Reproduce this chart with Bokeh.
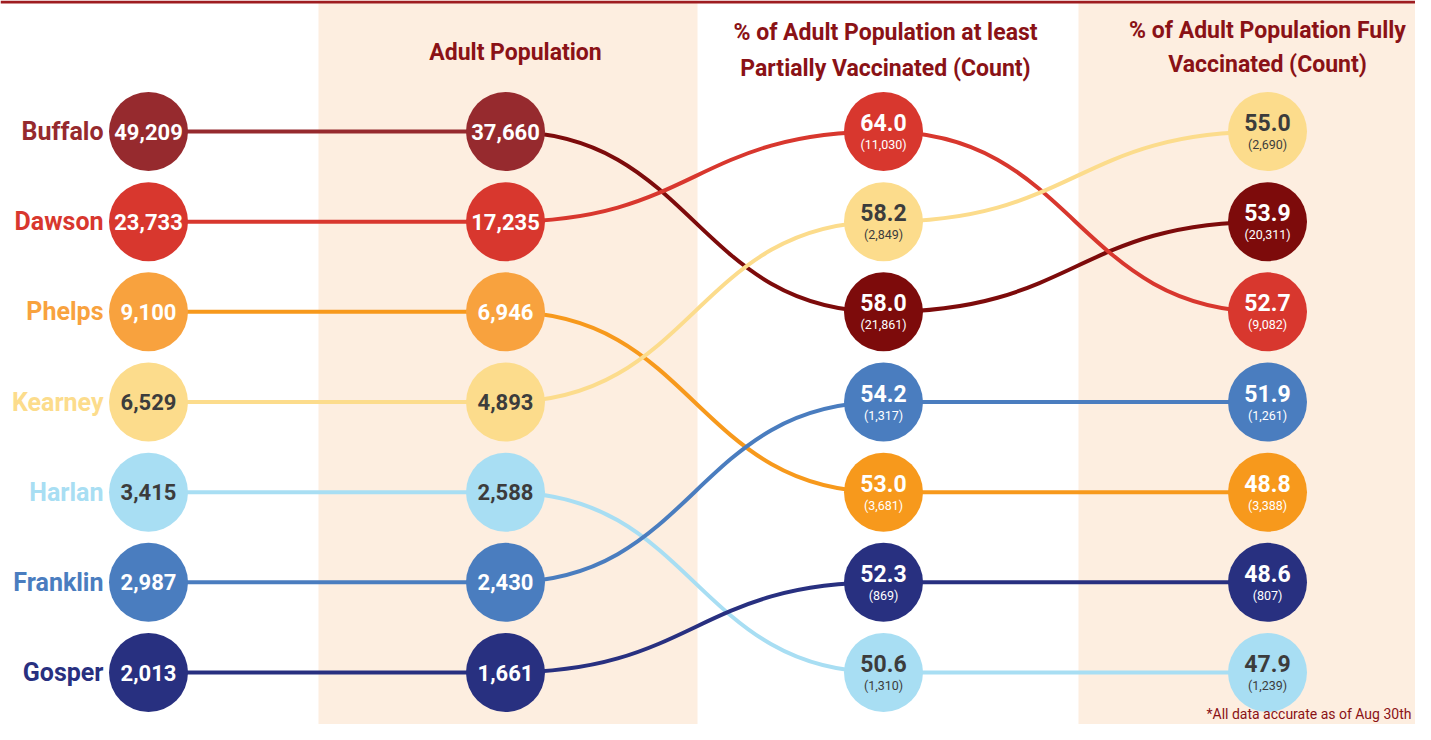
from bokeh.plotting import figure
from bokeh.models import Range1d, BoxAnnotation, ColumnDataSource
from bokeh.core.properties import value
from bokeh.embed import file_html
from bokeh.resources import INLINE

# ---------------- data ----------------
counties = ["Buffalo", "Dawson", "Phelps", "Kearney", "Harlan", "Franklin", "Gosper"]
total_pop = [49209, 23733, 9100, 6529, 3415, 2987, 2013]
adult_pop = [37660, 17235, 6946, 4893, 2588, 2430, 1661]
partial_pct = [58.0, 64.0, 53.0, 58.2, 50.6, 54.2, 52.3]
partial_count = [21861, 11030, 3681, 2849, 1310, 1317, 869]
full_pct = [53.9, 52.7, 48.8, 55.0, 47.9, 51.9, 48.6]
full_count = [20311, 9082, 3388, 2690, 1239, 1261, 807]

headers = ["", "Adult Population",
           "% of Adult Population at least\nPartially Vaccinated (Count)",
           "% of Adult Population Fully\nVaccinated (Count)"]
footnote = "*All data accurate as of Aug 30th"

# ---------------- style ----------------
FONT = value("Roboto")
county_color = {"Buffalo": "#7d0b0b", "Dawson": "#d8372e", "Phelps": "#f7991c",
                "Kearney": "#fcdc8c", "Harlan": "#a8def3", "Franklin": "#4a7dbf",
                "Gosper": "#283080"}
early_color = {"Buffalo": "#962a2e", "Phelps": "#f8a23e"}   # first two columns
dark_text = {"Kearney", "Harlan"}
HEAD = "#8a1216"
BAND = "#fdeee0"

COL_X = [148, 505, 883, 1267]
ROW0, STEP = 131, 90.17
LABEL_X = 103


def ranks(vals):
    order = sorted(range(len(vals)), key=lambda i: -vals[i])
    r = [0] * len(vals)
    for k, i in enumerate(order):
        r[i] = k
    return r


cols_vals = [total_pop, adult_pop, partial_pct, full_pct]
col_ranks = [ranks(v) for v in cols_vals]
ypos = [[ROW0 + STEP * r for r in rk] for rk in col_ranks]

p = figure(width=1415, height=724, output_backend="svg", toolbar_location=None,
           x_range=Range1d(0, 1415), y_range=Range1d(724, 0), min_border=0,
           background_fill_color="white", border_fill_color="white")
p.axis.visible = False
p.grid.visible = False
p.outline_line_color = None

p.add_layout(BoxAnnotation(left=318, right=697, fill_color=BAND, fill_alpha=1,
                           line_color=None, level="underlay"))
p.add_layout(BoxAnnotation(left=1078, right=1500, fill_color=BAND, fill_alpha=1,
                           line_color=None, level="underlay"))
p.add_layout(BoxAnnotation(top=0, bottom=3, fill_color="#9e1c20", fill_alpha=1,
                           line_color=None))

# ---------------- connecting curves ----------------
for i, c in enumerate(counties):
    for k in range(3):
        x0, x1 = COL_X[k], COL_X[k + 1]
        y0, y1 = ypos[k][i], ypos[k + 1][i]
        xm = (x0 + x1) / 2
        col = early_color.get(c, county_color[c]) if (k == 0 and c == "Buffalo") else county_color[c]
        p.bezier(x0=[x0], y0=[y0], x1=[x1], y1=[y1], cx0=[xm], cy0=[y0],
                 cx1=[xm], cy1=[y1], line_color=col, line_width=4)

# ---------------- circles & labels ----------------
for k in range(4):
    fills, txt_cols = [], []
    for c in counties:
        fills.append(early_color.get(c, county_color[c]) if k < 2 else county_color[c])
        txt_cols.append("#3c3c3c" if c in dark_text else "white")
    src = ColumnDataSource(dict(x=[COL_X[k]] * len(counties), y=ypos[k], fill=fills, tc=txt_cols))
    p.scatter("x", "y", source=src, marker="circle", size=79, fill_color="fill", line_color=None)
    if k < 2:
        src.data["lab"] = [f"{v:,}" for v in cols_vals[k]]
        p.text("x", "y", text="lab", source=src, text_align="center", text_baseline="middle",
               text_color="tc", text_font=FONT, text_font_style="bold", text_font_size="22px")
    else:
        cnts = partial_count if k == 2 else full_count
        src.data["pct"] = [f"{v:.1f}" for v in cols_vals[k]]
        src.data["cnt"] = [f"({v:,})" for v in cnts]
        p.text("x", "y", text="pct", source=src, text_align="center", text_baseline="middle",
               text_color="tc", text_font=FONT, text_font_style="bold", text_font_size="23px",
               y_offset=-9)
        p.text("x", "y", text="cnt", source=src, text_align="center", text_baseline="middle",
               text_color="tc", text_font=FONT, text_font_size="12.5px", y_offset=13)

# county names
name_cols = [early_color.get(c, county_color[c]) for c in counties]
p.text(x=[LABEL_X] * len(counties), y=ypos[0], text=counties, text_align="right",
       text_baseline="middle", text_color=name_cols, text_font=FONT,
       text_font_style="bold", text_font_size="25px")

# headers
p.text(x=[COL_X[1] + 10], y=[52], text=[headers[1]], text_align="center", text_baseline="middle",
       text_color=HEAD, text_font=FONT, text_font_style="bold", text_font_size="23px")
p.text(x=[COL_X[2] + 2], y=[50], text=[headers[2]], text_align="center", text_baseline="middle",
       text_color=HEAD, text_font=FONT, text_font_style="bold", text_font_size="23px",
       text_line_height=1.3)
p.text(x=[COL_X[3]], y=[47], text=[headers[3]], text_align="center", text_baseline="middle",
       text_color=HEAD, text_font=FONT, text_font_style="bold", text_font_size="23px",
       text_line_height=1.27)

# footnote
p.text(x=[1206], y=[713], text=[footnote], text_align="left", text_baseline="middle",
       text_color=HEAD, text_font=FONT, text_font_size="14px")

open("out.html", "w").write(file_html(p, INLINE))
